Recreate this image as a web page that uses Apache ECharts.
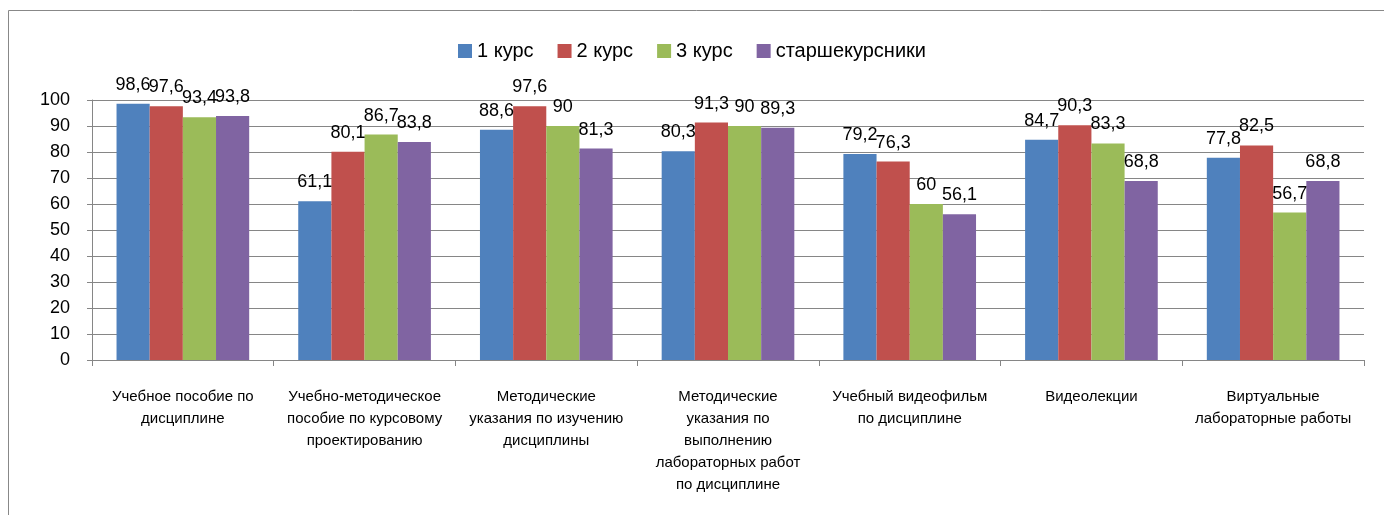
<!DOCTYPE html>
<html>
<head>
<meta charset="utf-8">
<script src="https://cdn.jsdelivr.net/npm/echarts@6/dist/echarts.min.js"></script>
<style>
  html, body { margin: 0; padding: 0; background: #fff; }
  #chart { width: 1384px; height: 515px; }
</style>
</head>
<body>
<div id="chart"></div>
<script>
const categories = [
    'Учебное пособие по\nдисциплине',
    'Учебно-методическое\nпособие по курсовому\nпроектированию',
    'Методические\nуказания по изучению\nдисциплины',
    'Методические\nуказания по\nвыполнению\nлабораторных работ\nпо дисциплине',
    'Учебный видеофильм\nпо дисциплине',
    'Видеолекции',
    'Виртуальные\nлабораторные работы'
];
const course1 = [98.6, 61.1, 88.6, 80.3, 79.2, 84.7, 77.8];
const course2 = [97.6, 80.1, 97.6, 91.3, 76.3, 90.3, 82.5];
const course3 = [93.4, 86.7, 90, 90, 60, 83.3, 56.7];
const seniors = [93.8, 83.8, 81.3, 89.3, 56.1, 68.8, 68.8];
const seriesNames = ['1 курс', '2 курс', '3 курс', 'старшекурсники'];
const colors = ['#4F81BD', '#C0504D', '#9BBB59', '#8064A2'];

const font = 'Liberation Sans';
var myChart = echarts.init(document.getElementById('chart'));

function makeSeries(name, values, color) {
    return {
        name: name,
        type: 'bar',
        data: values,
        barGap: '0%',
        barCategoryGap: '27%',
        itemStyle: { color: color },
        animation: false,
        label: {
            show: true,
            position: 'top',
            distance: 10,
            fontFamily: font,
            fontSize: 18,
            color: '#000',
            formatter: p => String(p.value).replace('.', ',')
        }
    };
}

var option = {
    graphic: [{
        type: 'rect',
        shape: { x: 8.5, y: 10.5, width: 1420, height: 600 },
        style: { fill: 'none', stroke: '#888', lineWidth: 1 },
        silent: true
    }],
    legend: {
        top: 36,
        left: 'center',
        itemWidth: 14,
        itemHeight: 14,
        itemGap: 24,
        icon: 'rect',
        textStyle: { fontFamily: font, fontSize: 20, color: '#000' },
        data: seriesNames
    },
    grid: { left: 92, right: 20, top: 100, bottom: 155 },
    xAxis: {
        type: 'category',
        data: categories,
        axisLine: { lineStyle: { color: '#868686' } },
        axisTick: { show: true, length: 6, lineStyle: { color: '#868686' } },
        axisLabel: {
            interval: 0,
            margin: 26,
            fontFamily: font,
            fontSize: 15,
            lineHeight: 22,
            color: '#000'
        }
    },
    yAxis: {
        type: 'value',
        min: 0,
        max: 100,
        interval: 10,
        axisLine: { show: true, lineStyle: { color: '#868686' } },
        axisTick: { show: true, length: 5, lineStyle: { color: '#868686' } },
        splitLine: { lineStyle: { color: '#868686' } },
        axisLabel: { fontFamily: font, fontSize: 18, color: '#000', margin: 22 }
    },
    series: [
        makeSeries(seriesNames[0], course1, colors[0]),
        makeSeries(seriesNames[1], course2, colors[1]),
        makeSeries(seriesNames[2], course3, colors[2]),
        makeSeries(seriesNames[3], seniors, colors[3])
    ]
};
myChart.setOption(option);
</script>
</body>
</html>
